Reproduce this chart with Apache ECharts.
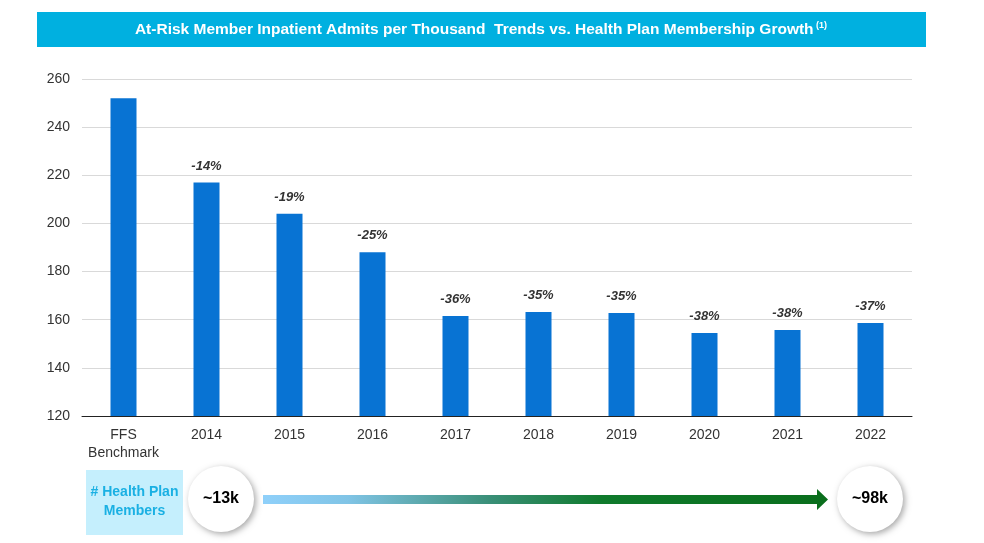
<!DOCTYPE html>
<html>
<head>
<meta charset="utf-8">
<script src="https://cdn.jsdelivr.net/npm/echarts@6/dist/echarts.min.js"></script>
<style>html,body{margin:0;padding:0;background:#fff}#c{width:984px;height:543px}</style>
</head>
<body>
<div id="c"></div>
<script>
const categories = ['FFS\nBenchmark', '2014', '2015', '2016', '2017', '2018', '2019', '2020', '2021', '2022'];
const admits = [252, 217, 204, 188, 161.5, 163.2, 162.8, 154.5, 155.7, 158.6];
const pctChange = ['', '-14%', '-19%', '-25%', '-36%', '-35%', '-35%', '-38%', '-38%', '-37%'];
const yTicks = { min: 120, max: 260, interval: 20 };
const titleText = 'At-Risk Member Inpatient Admits per Thousand  Trends vs. Health Plan Membership Growth';
const membersLabel = '# Health Plan\nMembers';
const membersStart = '~13k';
const membersEnd = '~98k';

const chart = echarts.init(document.getElementById('c'));
const font = 'Liberation Sans, Arial, sans-serif';
chart.setOption({
  animation: false,
  grid: { left: 82, right: 72, top: 79, bottom: 127 },
  xAxis: {
    type: 'category',
    data: categories,
    axisLine: { lineStyle: { color: '#222', width: 1 } },
    axisTick: { show: false },
    axisLabel: { interval: 0, color: '#333', fontSize: 14, fontFamily: font, margin: 10, lineHeight: 18 }
  },
  yAxis: {
    type: 'value',
    min: yTicks.min, max: yTicks.max, interval: yTicks.interval,
    axisLine: { show: false },
    axisTick: { show: false },
    axisLabel: { color: '#333', fontSize: 14, fontFamily: font, margin: 12 },
    splitLine: { lineStyle: { color: '#d9d9d9', width: 1 } }
  },
  series: [{
    type: 'bar',
    barWidth: 26,
    data: admits,
    itemStyle: { color: '#0873d3' },
    label: {
      show: true,
      position: 'top',
      distance: 10,
      formatter: p => pctChange[p.dataIndex],
      color: '#333',
      fontSize: 13,
      fontWeight: 'bold',
      fontStyle: 'italic',
      fontFamily: font
    }
  }],
  graphic: [
    { type: 'rect', shape: { x: 37, y: 12, width: 889, height: 35 }, style: { fill: '#00b0e0' } },
    { type: 'text', x: 481, y: 30, style: {
        text: '{t|' + titleText + '}{s| (1)}',
        align: 'center', verticalAlign: 'middle',
        rich: {
          t: { fill: '#fff', fontSize: 15.5, fontWeight: 'bold', fontFamily: font },
          s: { fill: '#fff', fontSize: 9, fontWeight: 'bold', fontFamily: font, verticalAlign: 'top', padding: [0, 0, 8, 0] }
        }
      } },
    { type: 'rect', shape: { x: 86, y: 470, width: 97, height: 65 }, style: { fill: '#c5effd' } },
    { type: 'text', x: 134.5, y: 502, style: {
        text: membersLabel, align: 'center', verticalAlign: 'middle',
        fill: '#1ab0e3', fontSize: 14, fontWeight: 'bold', fontFamily: font, lineHeight: 19 } },
    { type: 'polygon', shape: { points: [[263, 495], [817, 495], [817, 489], [828, 499.5], [817, 510], [817, 504], [263, 504]] },
      style: { fill: new echarts.graphic.LinearGradient(0, 0, 1, 0, [
        { offset: 0, color: '#8fd0fa' },
        { offset: 0.15, color: '#80c4e6' },
        { offset: 0.4, color: '#3a8f78' },
        { offset: 0.6, color: '#0f7a2c' },
        { offset: 1, color: '#0a6e1c' }
      ]) } },
    { type: 'circle', shape: { cx: 221, cy: 499, r: 33 },
      style: { fill: '#fff', shadowBlur: 6, shadowOffsetX: 2, shadowOffsetY: 2, shadowColor: 'rgba(0,0,0,0.35)' } },
    { type: 'text', x: 221, y: 499, style: { text: membersStart, align: 'center', verticalAlign: 'middle',
        fill: '#000', fontSize: 16, fontWeight: 'bold', fontFamily: font } },
    { type: 'circle', shape: { cx: 870, cy: 499, r: 33 },
      style: { fill: '#fff', shadowBlur: 6, shadowOffsetX: 2, shadowOffsetY: 2, shadowColor: 'rgba(0,0,0,0.35)' } },
    { type: 'text', x: 870, y: 499, style: { text: membersEnd, align: 'center', verticalAlign: 'middle',
        fill: '#000', fontSize: 16, fontWeight: 'bold', fontFamily: font } }
  ]
});
</script>
</body>
</html>
